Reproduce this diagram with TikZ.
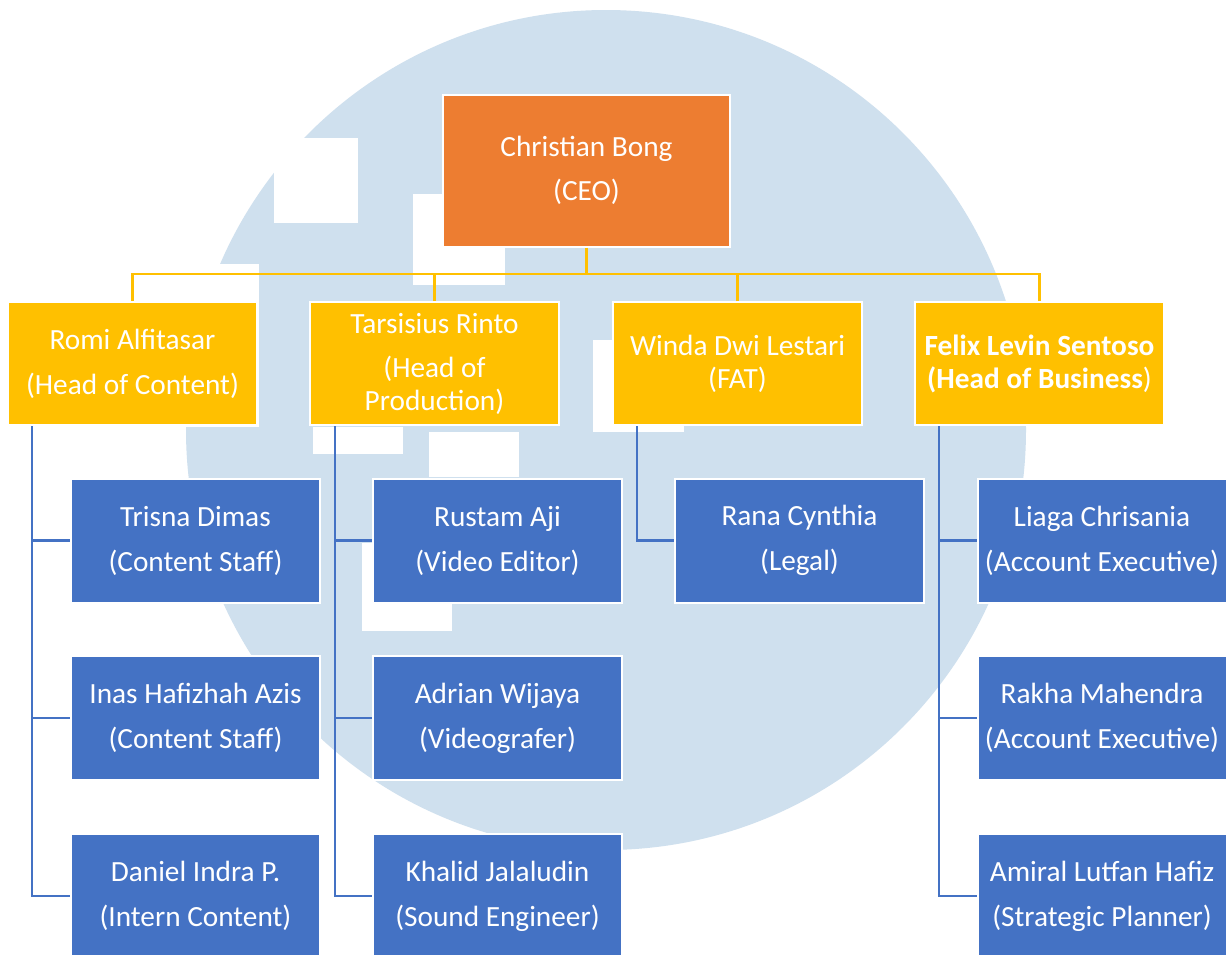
\documentclass[tikz,border=0pt]{standalone}
\usepackage{fontspec}
\setmainfont{Carlito}
\definecolor{circ}{RGB}{207,224,238}
\definecolor{ceocol}{RGB}{237,125,49}
\definecolor{goldcol}{RGB}{255,192,0}
\definecolor{staffcol}{RGB}{68,114,196}
\begin{document}
\begin{tikzpicture}[x=1pt,y=-1pt,
  box/.style={draw=white, line width=2pt, inner sep=0pt, align=center, text=white,
    font=\fontsize{29.3}{33}\selectfont, minimum width=249pt},
  ceobox/.style={box, fill=ceocol, minimum width=287pt, minimum height=152pt},
  headbox/.style={box, fill=goldcol, minimum height=123pt},
  staffbox/.style={box, fill=staffcol, minimum height=124pt},
  goldline/.style={draw=goldcol, line width=2.6pt},
  blueline/.style={draw=staffcol, line width=2.8pt},
  cutout/.style={fill=white, draw=none}]
\useasboundingbox (0,0) rectangle (1230,954);
\clip (0,0) rectangle (1230,954);
\fill[white] (0,0) rectangle (1230,954);
% background emblem
\fill[circ] (606,430) circle[radius=420];
\fill[cutout] (274,138) rectangle (358,223);
\fill[cutout] (413,194) rectangle (505,285);
\fill[cutout] (0,264) rectangle (259,427);
\fill[cutout] (313,427) rectangle (403,454);
\fill[cutout] (429,432) rectangle (519,477);
\fill[cutout] (362,543) rectangle (452,631);
\fill[cutout] (593,340) rectangle (684,432);
% CEO
\node[ceobox] (ceo) at (586.5,170.5) {Christian Bong\\[11pt](CEO)};
% heads
\node[headbox] (romi) at (132.5,363.5) {Romi Alfitasar\\[12pt](Head of Content)};
\node[headbox] (tars) at (434.5,363.5) {Tarsisius Rinto\\[11pt](Head of\\Production)};
\node[headbox] (winda) at (737.5,363.5) {Winda Dwi Lestari\\(FAT)};
\node[headbox] (felix) at (1039.5,363.5) {\textbf{Felix Levin Sentoso}\\\textbf{(Head of Business})};
% staff
\node[staffbox] (trisna) at (195.5,540.5) {Trisna Dimas\\[12pt](Content Staff)};
\node[staffbox] (inas) at (195.5,718) {Inas Hafizhah Azis\\[12pt](Content Staff)};
\node[staffbox] (daniel) at (195.5,896) {Daniel Indra P.\\[12pt](Intern Content)};
\node[staffbox] (rustam) at (497.5,540.5) {Rustam Aji\\[12pt](Video Editor)};
\node[staffbox] (adrian) at (497.5,718) {Adrian Wijaya\\[12pt](Videografer)};
\node[staffbox] (khalid) at (497.5,896) {Khalid Jalaludin\\[12pt](Sound Engineer)};
\node[staffbox] (rana) at (799.5,540.5) {Rana Cynthia\\[12pt](Legal)};
\node[staffbox] (liaga) at (1102,540.5) {Liaga Chrisania\\[12pt](Account Executive)};
\node[staffbox] (rakha) at (1102,718) {Rakha Mahendra\\[12pt](Account Executive)};
\node[staffbox] (amiral) at (1102,896) {Amiral Lutfan Hafiz\\[12pt](Strategic Planner)};
% connectors
\coordinate (bus) at (586.5,274);
\draw[goldline] (ceo.south) -- (bus);
\draw[goldline] (romi.north) |- (bus);
\draw[goldline] (tars.north) |- (bus);
\draw[goldline] (winda.north) |- (bus);
\draw[goldline] (felix.north) |- (bus);
\draw[blueline] ([xshift=25pt]romi.south west) |- (trisna.west);
\draw[blueline] ([xshift=25pt]romi.south west) |- (inas.west);
\draw[blueline] ([xshift=25pt]romi.south west) |- (daniel.west);
\draw[blueline] ([xshift=26pt]tars.south west) |- (rustam.west);
\draw[blueline] ([xshift=26pt]tars.south west) |- (adrian.west);
\draw[blueline] ([xshift=26pt]tars.south west) |- (khalid.west);
\draw[blueline] ([xshift=25pt]winda.south west) |- (rana.west);
\draw[blueline] ([xshift=25pt]felix.south west) |- (liaga.west);
\draw[blueline] ([xshift=25pt]felix.south west) |- (rakha.west);
\draw[blueline] ([xshift=25pt]felix.south west) |- (amiral.west);
\end{tikzpicture}
\end{document}
